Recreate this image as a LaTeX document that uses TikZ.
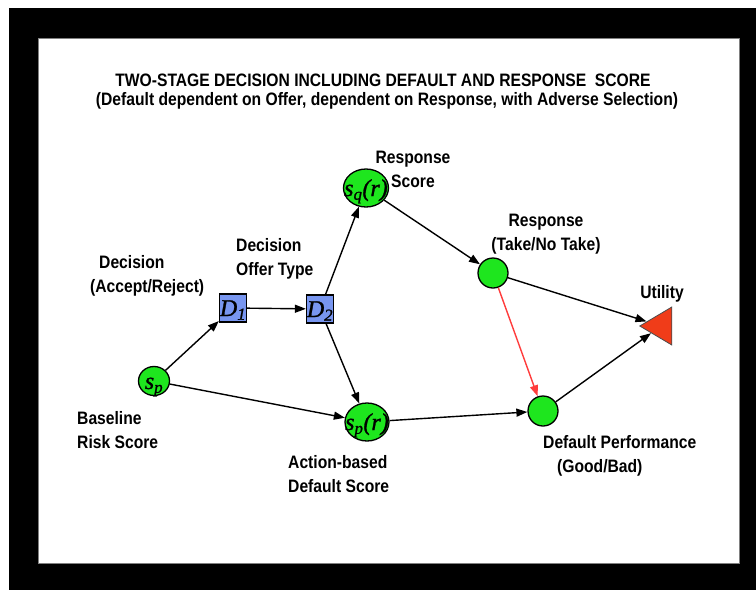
\documentclass[tikz,border=0pt]{standalone}
\usepackage{fontspec}
\setmainfont{Liberation Sans}[FakeStretch=0.87]
\newfontfamily\symfont{Liberation Serif}[FakeBold=1.2]
\usetikzlibrary{arrows.meta,shapes.geometric}

\definecolor{nodegreen}{RGB}{30,230,30}
\definecolor{boxblue}{RGB}{120,150,240}
\definecolor{utilred}{RGB}{240,60,25}
\definecolor{linkred}{RGB}{255,60,60}

% symbol text inside a node, kept from growing the shape
\newcommand{\symtxt}[1]{\smash{\makebox[0pt]{\raisebox{-8pt}{\fontsize{24}{24}\symfont\itshape #1}}}}

\begin{document}
\begin{tikzpicture}[x=1pt,y=-1pt,
    lbl/.style={font=\fontsize{18}{24}\selectfont\bfseries, inner sep=0pt, align=left},
    chance/.style={ellipse, draw=black, line width=1.3pt, fill=nodegreen, inner sep=0pt},
    decbox/.style={rectangle, draw=black, line width=1.3pt, fill=boxblue, minimum width=27pt, minimum height=28pt, inner sep=0pt},
    arr/.style={-{Triangle[length=11pt,width=8pt]}, line width=1.4pt}]
  \useasboundingbox (0,0) rectangle (756,590);
  \fill[black] (9,8) rectangle (756,590);
  \draw[gray, fill=white, line width=0.8pt] (38,38) rectangle (739,563);

  % Title
  \node[lbl, anchor=base] (title) at (383,86) {TWO-STAGE DECISION INCLUDING DEFAULT AND RESPONSE \ SCORE};
  \node[lbl, anchor=base] (subtitle) at (387,105) {(Default dependent on Offer, dependent on Response, with Adverse Selection)};

  % Nodes
  \node[chance, minimum width=31pt, minimum height=29pt] (sp) at (154,381) {\symtxt{s\textsubscript{p}}};
  \node[decbox] (D1) at (233,308) {\symtxt{D\textsubscript{1}}};
  \node[decbox] (D2) at (320,309) {\symtxt{D\textsubscript{2}}};
  \node[chance, minimum width=45pt, minimum height=38pt] (sqr) at (366,188) {\symtxt{s\textsubscript{q}(r)}};
  \node[chance, minimum width=44pt, minimum height=38pt] (spr) at (367,422) {\symtxt{s\textsubscript{p}(r)}};
  \node[chance, minimum size=30pt] (resp) at (493,273) {};
  \node[chance, minimum size=30pt] (dflt) at (543,411) {};
  \node[isosceles triangle, shape border rotate=180, isosceles triangle stretches,
        minimum width=38pt, minimum height=32pt, inner sep=0pt,
        draw=black!70, line width=0.8pt, fill=utilred] (util) at (661,326) {};

  % Labels
  \node[lbl, anchor=north west] (decAlbl) at (90,255) {\hspace*{9pt}Decision\\(Accept/Reject)};
  \node[lbl, anchor=north west] (decBlbl) at (236,238) {Decision\\Offer Type};
  \node[lbl, anchor=north, align=center] (sqrlbl) at (413,151) {Response\\Score};
  \node[lbl, anchor=north, align=center] (resplbl) at (546,214) {Response\\(Take/No Take)};
  \node[lbl, anchor=north] (utillbl) at (662,285) {Utility};
  \node[lbl, anchor=north west] (splbl) at (77,411) {Baseline\\Risk Score};
  \node[lbl, anchor=north west] (sprlbl) at (288,455) {Action-based\\Default Score};
  \node[lbl, anchor=north west] (dfltlbl) at (543,435) {Default Performance\\\hspace*{14pt}(Good/Bad)};

  % Edges
  \draw[arr] (sp) -- (D1);
  \draw[arr] (D1) -- (D2);
  \draw[arr] (D2) -- (sqr);
  \draw[arr] (D2) -- (spr);
  \draw[arr] (sp) -- (spr);
  \draw[arr] (sqr) -- (resp);
  \draw[arr] (spr) -- (dflt);
  \draw[arr] (resp) -- (util);
  \draw[arr] (dflt) -- (util);
  \draw[arr, linkred] (resp) -- (dflt);
\end{tikzpicture}
\end{document}
